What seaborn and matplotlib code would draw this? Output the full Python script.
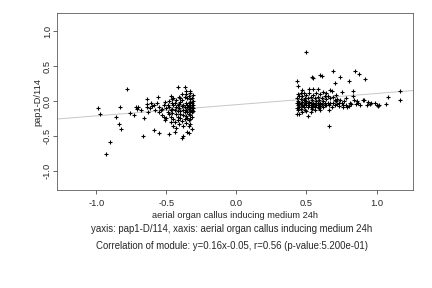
import seaborn as sns
import pandas as pd
import matplotlib.pyplot as plt

sns.set_style('white')
plt.rcParams['font.family'] = ['Liberation Sans', 'DejaVu Sans']
plt.rcParams['axes.unicode_minus'] = False

# left cluster (x, y)
left_x = [-0.99, -0.97, -0.78, -0.83, -0.86, -0.84, -0.82, -0.90, -0.93, -0.76, -0.73, -0.72,
          -0.71, -0.70, -0.67, -0.66, -0.64, -0.64, -0.64, -0.62, -0.60, -0.59, -0.59, -0.55,
          -0.56, -0.55, -0.54, -0.55, -0.53, -0.52, -0.51, -0.50, -0.51, -0.48, -0.47, -0.46,
          -0.46, -0.46, -0.44, -0.42, -0.41, -0.40, -0.38, -0.39, -0.37, -0.35, -0.34, -0.33,
          -0.33, -0.36,
          -0.50, -0.49, -0.49, -0.48, -0.48, -0.47, -0.47, -0.46, -0.45, -0.45, -0.44, -0.44,
          -0.44, -0.43, -0.43, -0.43, -0.42, -0.42, -0.42, -0.41, -0.41, -0.41, -0.40, -0.40,
          -0.40, -0.40, -0.39, -0.39, -0.39, -0.38, -0.38, -0.38, -0.38, -0.37, -0.37, -0.37,
          -0.37, -0.36, -0.36, -0.36, -0.36, -0.36, -0.35, -0.35, -0.35, -0.35, -0.35, -0.34,
          -0.34, -0.34, -0.34, -0.34, -0.34, -0.33, -0.33, -0.33, -0.33, -0.33, -0.33, -0.33,
          -0.33, -0.32, -0.32, -0.32, -0.32, -0.32, -0.32, -0.31, -0.31, -0.31, -0.31, -0.31,
          -0.32, -0.34, -0.45, -0.47, -0.43, -0.48, -0.52, -0.53, -0.57, -0.58, -0.61, -0.63,
          -0.68, -0.45, -0.39, -0.42]
left_y = [-0.10, -0.19, 0.17, -0.09, -0.23, -0.32, -0.40, -0.58, -0.76, -0.17, -0.20, -0.08,
          -0.11, -0.09, -0.50, -0.24, 0.03, -0.04, -0.08, -0.10, -0.07, -0.05, -0.41, -0.45,
          0.06, -0.08, -0.12, -0.15, -0.20, -0.22, -0.01, -0.24, -0.27, -0.47, 0.07, 0.03,
          -0.03, -0.11, -0.44, 0.20, 0.06, 0.05, -0.50, -0.52, 0.20, -0.44, -0.35, -0.32,
          0.15, 0.15,
          -0.10, -0.05, -0.15, -0.19, -0.08, -0.13, -0.22, -0.17, -0.06, -0.25, -0.02, -0.12,
          -0.30, -0.08, -0.18, 0.02, -0.22, -0.14, -0.27, -0.04, -0.10, -0.33, -0.18, -0.01,
          -0.24, -0.14, -0.07, -0.29, 0.02, -0.12, -0.20, -0.36, -0.05, -0.16, -0.26, 0.06,
          -0.09, -0.02, -0.12, -0.21, -0.31, 0.10, -0.06, -0.15, -0.24, -0.09, 0.04, -0.03,
          -0.11, -0.18, -0.27, 0.08, -0.07, -0.01, -0.05, -0.10, -0.14, -0.20, -0.25, 0.03,
          0.12, -0.03, -0.08, -0.12, -0.16, 0.05, -0.22, -0.06, -0.10, 0.00, -0.14, 0.09,
          -0.40, -0.46, -0.35, -0.30, -0.38, 0.00, -0.05, -0.11, -0.02, -0.12, -0.03, -0.16,
          -0.12, 0.05, 0.10, -0.06]

# right cluster (x, y)
right_x = [0.495, 0.54, 0.55, 0.60, 0.61, 0.69, 0.74, 0.845, 0.876, 0.92, 0.80, 0.70, 0.43,
           1.17, 1.17, 1.08, 1.07, 1.02, 1.01, 0.99, 0.96, 0.94, 0.93, 0.88, 0.86, 0.84, 0.85,
           0.83, 0.83, 0.90, 0.91, 0.80, 0.79, 0.78, 0.76, 0.76, 0.71, 0.70, 0.66, 0.66, 0.75,
           0.68, 0.67, 0.43, 0.45, 0.51, 0.53, 0.72, 0.73, 0.64, 0.63, 0.58, 0.55, 0.52, 0.47,
           0.44, 0.46,
           0.43, 0.43, 0.43, 0.44, 0.44, 0.44, 0.44, 0.45, 0.45, 0.45, 0.46, 0.46, 0.46, 0.47,
           0.47, 0.47, 0.48, 0.48, 0.48, 0.48, 0.49, 0.49, 0.49, 0.50, 0.50, 0.50, 0.51, 0.51,
           0.51, 0.52, 0.52, 0.52, 0.53, 0.53, 0.53, 0.54, 0.54, 0.54, 0.55, 0.55, 0.55, 0.56,
           0.56, 0.56, 0.57, 0.57, 0.57, 0.58, 0.58, 0.58, 0.59, 0.59, 0.59, 0.60, 0.60, 0.60,
           0.61, 0.61, 0.62, 0.62, 0.62, 0.63, 0.63, 0.64, 0.64, 0.65, 0.65, 0.66, 0.67, 0.67,
           0.68, 0.69, 0.69, 0.70, 0.71, 0.72, 0.73, 0.74, 0.75, 0.77, 0.78, 0.81, 0.82, 0.87,
           0.95, 1.00, 0.47, 0.50, 0.56, 0.60]
right_y = [0.70, 0.34, 0.33, 0.37, 0.36, 0.43, 0.34, 0.43, 0.39, 0.31, 0.29, 0.26, 0.29,
           0.15, 0.01, 0.06, -0.04, -0.05, -0.07, -0.03, -0.02, -0.01, -0.05, -0.05, 0.00, 0.01,
           -0.04, 0.15, 0.07, 0.02, 0.01, -0.07, -0.09, -0.06, -0.05, -0.09, 0.00, 0.01, -0.36,
           -0.12, 0.13, 0.15, 0.16, -0.19, -0.19, -0.21, -0.16, -0.04, -0.02, 0.11, 0.07, 0.17,
           0.18, 0.17, 0.16, 0.21, 0.12,
           0.05, -0.03, -0.10, 0.10, 0.00, -0.06, -0.13, 0.07, -0.02, -0.08, 0.03, -0.04, -0.11,
           0.08, -0.01, -0.07, 0.12, 0.02, -0.05, -0.09, -0.02, 0.05, -0.13, 0.09, -0.06, 0.00,
           -0.03, -0.09, 0.04, 0.12, -0.06, -0.01, 0.06, -0.08, -0.03, 0.02, -0.05, -0.11, 0.09,
           -0.02, -0.07, 0.04, -0.04, -0.09, 0.12, -0.06, 0.00, 0.06, -0.03, -0.08, 0.02, -0.05,
           -0.10, 0.10, -0.02, -0.07, 0.05, -0.04, 0.00, -0.08, 0.13, -0.03, -0.06, 0.03, -0.05,
           0.08, -0.02, -0.06, 0.04, -0.03, -0.08, 0.06, -0.02, -0.05, 0.09, 0.03, -0.07, 0.02,
           -0.03, 0.00, 0.05, -0.02, -0.04, -0.02, -0.04, -0.05, -0.15, -0.14, -0.13, -0.12]

slope, intercept = 0.16, -0.05
xlabel = 'aerial organ callus inducing medium 24h'
ylabel = 'pap1-D/114'
caption1 = 'yaxis: pap1-D/114, xaxis: aerial organ callus inducing medium 24h'
caption2 = 'Correlation of module: y=0.16x-0.05, r=0.56 (p-value:5.200e-01)'

df = pd.DataFrame({'x': left_x + right_x, 'y': left_y + right_y})

fig = plt.figure(figsize=(6, 4), dpi=72)
ax = fig.add_axes([0.132, 0.340, 0.824, 0.615])

ax.axline((0, intercept), slope=slope, color='#c8c8c8', lw=1, zorder=1)
sns.scatterplot(data=df, x='x', y='y', ax=ax, marker='+', color='black',
                s=20, linewidth=1.1, zorder=2)

ax.set_xlim(-1.28, 1.26)
ax.set_ylim(-1.27, 1.26)
ax.set_xticks([-1.0, -0.5, 0.0, 0.5, 1.0])
ax.set_yticks([-1.0, -0.5, 0.0, 0.5, 1.0])
ax.set_xticklabels(['-1.0', '-0.5', '0.0', '0.5', '1.0'])
ax.set_yticklabels(['-1.0', '-0.5', '0.0', '0.5', '1.0'], rotation=90, va='center')
ax.tick_params(axis='both', direction='out', length=4, width=0.8, color='#444444',
               labelsize=9.3, left=True, bottom=True)
ax.tick_params(axis='x', pad=5)
ax.tick_params(axis='y', pad=1)
for s in ax.spines.values():
    s.set_color('#555555')
    s.set_linewidth(0.8)
ax.set_xlabel(xlabel, fontsize=9.3, labelpad=3)
ax.set_ylabel(ylabel, fontsize=9.3, labelpad=1)

fig.text(0.537, 1 - 229 / 288, caption1, ha='center', va='center', fontsize=9.6)
fig.text(0.537, 1 - 246 / 288, caption2, ha='center', va='center', fontsize=9.6)

fig.savefig('out.png', dpi=72)
